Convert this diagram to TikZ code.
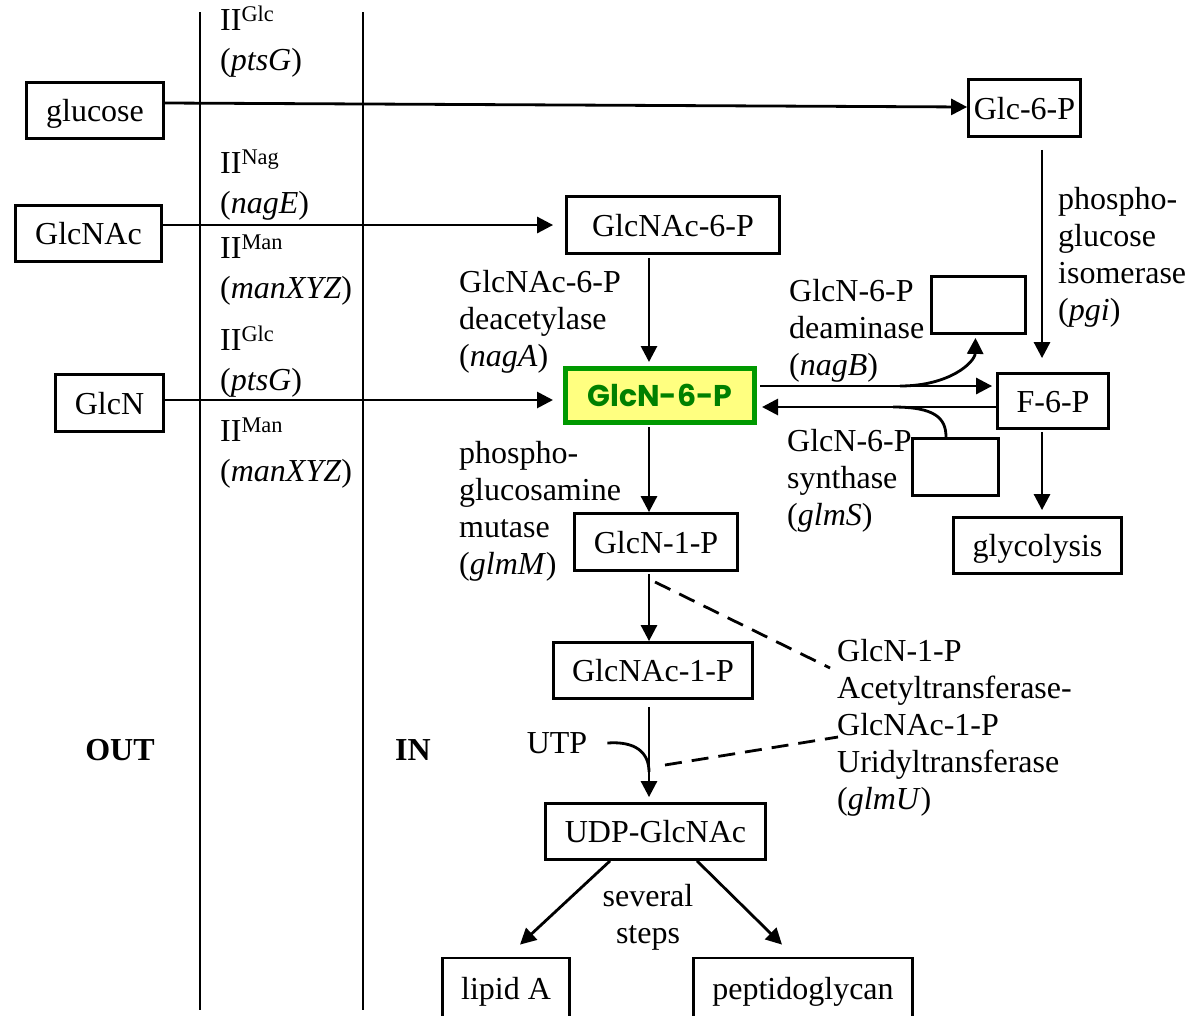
\documentclass[tikz,border=0pt]{standalone}
\usepackage{fontspec}
\setmainfont{Liberation Serif}
\newfontfamily\geofont{Poppins}
\usetikzlibrary{arrows.meta,calc}

\definecolor{boxgreen}{RGB}{0,153,0}
\definecolor{textgreen}{RGB}{0,128,0}
\definecolor{hilite}{RGB}{255,255,128}

\begin{document}
\begin{tikzpicture}[x=1pt,y=-1pt,
  every node/.style={font=\fontsize{32}{36.8}\selectfont, inner sep=0pt},
  box/.style={draw, line width=2.8pt, text height=24pt, text depth=2pt},
  lbl/.style={anchor=base west, align=left},
  arr/.style={line width=2.8pt, -{Triangle[length=16pt,width=16pt]}},
  plain/.style={line width=2.8pt},
  dsh/.style={line width=2.8pt, dash pattern=on 17pt off 10pt}]

\useasboundingbox (0,0) rectangle (1190,1015);
\clip (0,0) rectangle (1190,1015);

% membrane: outside / inside
\draw[plain] (200,12) -- (200,1010);
\draw[plain] (363,12) -- (363,1010);
\node[font=\fontsize{32}{36.8}\selectfont\bfseries] (outside) at (120,750) {OUT};
\node[font=\fontsize{32}{36.8}\selectfont\bfseries] (inside) at (413,750) {IN};

% external sugars
\node[box, minimum width=137pt, minimum height=56pt] (glucose) at (95,110.5) {glucose};
\node[box, minimum width=146pt, minimum height=56pt] (glcnac) at (88.5,233.5) {GlcNAc};
\node[box, minimum width=108pt, minimum height=57pt] (glcn) at (109.5,403) {GlcN};

% transporters (anchored at the baseline of the last line)
\node[lbl] (tglc1) at (220,70) {II\textsuperscript{Glc}\\[3pt](\textit{ptsG})};
\node[lbl] (tnag) at (220,213) {II\textsuperscript{Nag}\\[3pt](\textit{nagE})};
\node[lbl] (tman1) at (220,298) {II\textsuperscript{Man}\\[3pt](\textit{manXYZ})};
\node[lbl] (tglc2) at (220,390) {II\textsuperscript{Glc}\\[3pt](\textit{ptsG})};
\node[lbl] (tman2) at (220,481) {II\textsuperscript{Man}\\[3pt](\textit{manXYZ})};

% intracellular metabolites
\node[box, minimum width=112pt, minimum height=57pt] (glc6p) at (1024.5,108) {Glc-6-P};
\node[box, minimum width=213pt, minimum height=57pt] (nac6p) at (673,225) {GlcNAc-6-P};
\node[draw=boxgreen, fill=hilite, line width=5pt, minimum width=189pt, minimum height=54pt,
      text=textgreen, font=\fontsize{30}{32}\geofont\bfseries] (g6p) at (660,395.5) {GlcN-6-P};
\node[box, minimum width=111pt, minimum height=55pt] (f6p) at (1053,401) {F-6-P};
\node[box, minimum width=94pt, minimum height=57pt] (emptyA) at (978.5,305) {};
\node[box, minimum width=86pt, minimum height=57pt] (emptyB) at (955.5,467) {};
\node[box, minimum width=168pt, minimum height=56pt] (glyc) at (1037.5,545.5) {glycolysis};
\node[box, minimum width=163pt, minimum height=57pt] (g1p) at (656,542) {GlcN-1-P};
\node[box, minimum width=199pt, minimum height=56pt] (nac1p) at (653,670.5) {GlcNAc-1-P};
\node[box, minimum width=220pt, minimum height=56pt] (udp) at (655.5,831.5) {UDP-GlcNAc};
\node[box, minimum width=127pt, minimum height=60pt] (lipid) at (506,988) {lipid A};
\node[box, minimum width=219pt, minimum height=60pt] (pepg) at (803,988) {peptidoglycan};

% enzyme labels (anchored at the baseline of the last line)
\node[lbl] (nagA) at (459,366) {GlcNAc-6-P\\deacetylase\\(\textit{nagA})};
\node[lbl] (glmM) at (459,574) {phospho-\\glucosamine\\mutase\\(\textit{glmM})};
\node[lbl] (nagB) at (789,375) {GlcN-6-P\\deaminase\\(\textit{nagB})};
\node[lbl] (glmS) at (787,525) {GlcN-6-P\\synthase\\(\textit{glmS})};
\node[lbl] (pgi) at (1058,320) {phospho-\\glucose\\isomerase\\(\textit{pgi})};
\node[lbl] (glmU) at (837,809) {GlcN-1-P\\Acetyltransferase-\\GlcNAc-1-P\\Uridyltransferase\\(\textit{glmU})};
\node (utp) at (557,743) {UTP};
\node[align=center] (steps) at (648,917) {several\\steps};

% uptake
\draw[arr] ([yshift=7.5pt]glucose.east) -- ([yshift=1pt]glc6p.west);
\draw[arr, shorten >=12pt] ([yshift=8.5pt]glcnac.east) coordinate (t1) -- (t1 -| nac6p.west);
\draw[arr, shorten >=10pt] ([yshift=3pt]glcn.east) coordinate (t2) -- (t2 -| g6p.west);

% main pathway
\coordinate (spine) at (649,0);
\draw[arr, shorten <=3pt, shorten >=4pt] (spine |- nac6p.south) -- (spine |- g6p.north);
\draw[arr, shorten <=2pt] (spine |- g6p.south) -- (spine |- g1p.north);
\draw[arr, shorten <=2pt] (spine |- g1p.south) -- (spine |- nac1p.north);
\draw[arr, shorten <=7pt, shorten >=5pt] (spine |- nac1p.south) -- (spine |- udp.north);

% glycolytic branch
\coordinate (pgiline) at (1042,0);
\draw[arr, shorten <=12pt, shorten >=14pt] (pgiline |- glc6p.south) -- (pgiline |- f6p.north);
\draw[arr, shorten <=2pt, shorten >=6pt] (pgiline |- f6p.south) -- (pgiline |- glyc.north);
\draw[arr, shorten <=3pt, shorten >=4pt] ([yshift=9.5pt]g6p.east) coordinate (u) -- (u -| f6p.west);
\draw[arr, shorten >=5pt] ([yshift=-6pt]f6p.west) coordinate (l) -- (l -| g6p.east);
\coordinate (nbstart) at (900,386);
\draw[arr] (nbstart) .. controls (950,386) and (975,362) .. ([xshift=-3pt,yshift=-3pt]emptyA.south);
\coordinate (gsstart) at (893,407);
\draw[plain] (gsstart) .. controls (935,407) and (946,418) .. ([xshift=-9.5pt]emptyB.north);

% glmU
\coordinate (da1) at (655,582);
\coordinate (da2) at (830,668);
\coordinate (db1) at (665,765);
\coordinate (db2) at (838,737);
\draw[dsh] (da1) -- (da2);
\draw[dsh] (db1) -- (db2);
\coordinate (utpmerge) at (649,772);
\draw[plain] ([xshift=20pt]utp.east) .. controls (635,741) and (649,752) .. (utpmerge);

% cell wall and membrane precursors
\draw[arr] ([xshift=-45.5pt]udp.south) -- ([shift={(14pt,12pt)}]lipid.north);
\draw[arr] ([xshift=41.5pt]udp.south) -- ([shift={(-21pt,12pt)}]pepg.north);
\end{tikzpicture}
\end{document}
